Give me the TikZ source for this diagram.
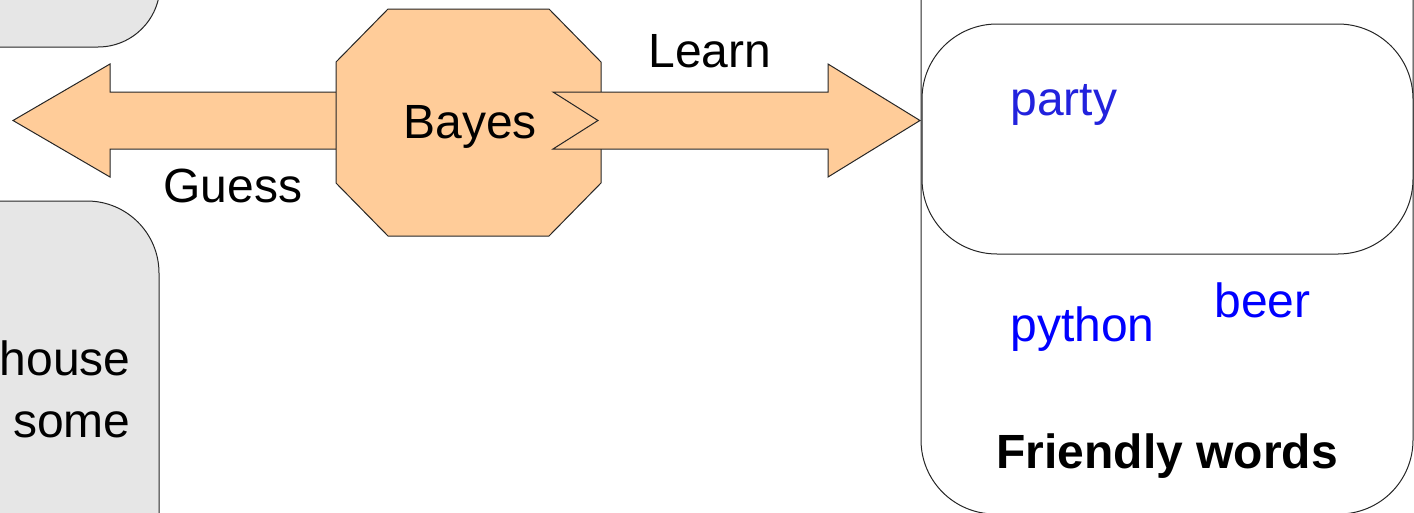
\documentclass[tikz,border=0pt]{standalone}
\usepackage{fontspec}
\setmainfont{Liberation Sans}
\definecolor{peach}{HTML}{FFCC99}
\definecolor{boxgray}{HTML}{E6E6E6}
\definecolor{partyblue}{HTML}{2222DD}
\begin{document}
\begin{tikzpicture}[x=1pt,y=-1pt,line width=1pt,
  lbl/.style={inner sep=0pt,font=\fontsize{48}{56}\selectfont},
  word/.style={lbl,text=blue,anchor=base west},
  shapeline/.style={draw=black!85,line width=1pt},
  grayblock/.style={shapeline,fill=boxgray},
  peachshape/.style={shapeline,fill=peach,line join=miter}]
\useasboundingbox (0,0) rectangle (1414,512);
\clip (0,0) rectangle (1414,512);
% grey blocks at the left
\draw[grayblock,rounded corners=62pt] (-100,-100) rectangle (160,47);
\draw[grayblock,rounded corners=72pt] (-100,201) rectangle (159,700);
\node[lbl,anchor=base east] (house) at (131,375) {house};
\node[lbl,anchor=base east] (some) at (131,437) {some};
% right container
\draw[shapeline,rounded corners=74pt] (921,-100) rectangle (1413,514);
\draw[shapeline,fill=white,rounded corners=75pt] (922,24) rectangle (1413,254);
% left (Guess) arrow, behind octagon
\draw[peachshape] (360,92) -- (110,92) -- (110,64) -- (13,120.5) -- (110,177) -- (110,149) -- (360,149);
% octagon
\draw[peachshape] (388,9) -- (549,9) -- (601,62) -- (601,183) -- (549,236) -- (388,236) -- (336,183) -- (336,62) -- cycle;
% right (Learn) arrow with notched tail
\draw[peachshape] (553,92) -- (828,92) -- (828,64) -- (920,120.5) -- (828,177) -- (828,149) -- (553,149) -- (598,120.5) -- cycle;
% labels
\node[lbl,anchor=base west] (bayes) at (403,138) {Bayes};
\node[lbl,anchor=base west] (learn) at (648,67) {Learn};
\node[lbl,anchor=base west] (guess) at (163,202) {Guess};
\node[word,text=partyblue] (party) at (1010,115) {party};
\node[word] (python) at (1010,341) {python};
\node[word] (beer) at (1214,317) {beer};
\node[lbl,anchor=base west,font=\fontsize{48}{56}\selectfont\bfseries] (friendly) at (996,468) {Friendly words};
\end{tikzpicture}
\end{document}
